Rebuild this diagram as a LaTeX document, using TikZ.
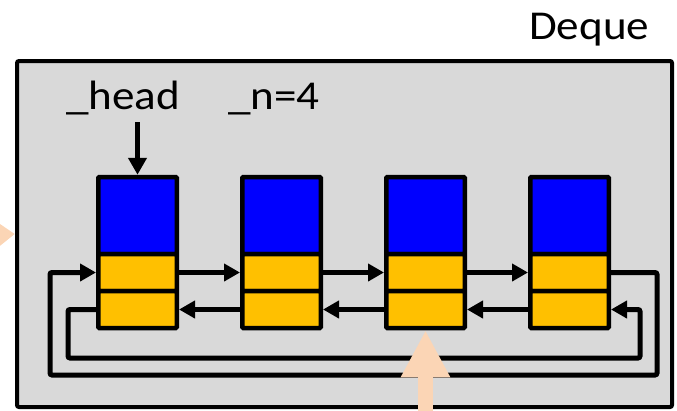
\documentclass[tikz,border=0pt]{standalone}
\usepackage{fontspec}
\setmainfont{Carlito}
\usetikzlibrary{arrows.meta}
\definecolor{boxgray}{RGB}{217,217,217}
\definecolor{cellblue}{RGB}{0,0,255}
\definecolor{cellgold}{RGB}{255,192,0}
\definecolor{peach}{RGB}{251,213,181}
\newcommand{\wide}[1]{\scalebox{1.1}[1]{#1}}
\tikzset{
  cell/.style={draw=black, line width=4.5pt, minimum width=78.5pt, inner sep=0pt, rounded corners=1pt},
  valcell/.style={cell, fill=cellblue, minimum height=77pt},
  ptrcell/.style={cell, fill=cellgold, minimum height=37pt},
  link/.style={draw=black, line width=5pt, rounded corners=2pt, -{Triangle[length=16pt,width=17pt]}},
  lbl/.style={font=\fontsize{41}{48}\selectfont, inner sep=0pt, anchor=base west},
  frame/.style={draw=black, fill=boxgray, line width=4pt, rounded corners=2pt, inner sep=0pt},
  bigarrow/.style={draw=peach, line width=15pt}
}
\begin{document}
\begin{tikzpicture}[x=1pt, y=-1pt]
  \useasboundingbox (0,0) rectangle (677,410);

  % deque container
  \node[frame, minimum width=655pt, minimum height=346pt] (deque) at (344.5,234) {};
  \node[lbl] (title) at (529,39) {\wide{Deque}};
  \node[lbl] (head) at (66,109) {\wide{\_head}};
  \node[lbl] (count) at (228,109) {\wide{\_n=4}};

  % list nodes: value cell, next pointer, prev pointer
  \foreach \i/\x in {1/137.5, 2/281.5, 3/425.5, 4/569.5} {
    \node[valcell] (n\i) at (\x,215.5) {};
    \node[ptrcell] (n\i a) at (\x,272.5) {};
    \node[ptrcell] (n\i b) at (\x,309.5) {};
  }

  % head pointer
  \coordinate (headtop) at (137.5,122);
  \draw[link, -{Triangle[length=17pt,width=18pt]}] (headtop) -- (n1.north);

  % next and prev links
  \draw[link] (n1a.east) -- (n2a.west);
  \draw[link] (n2a.east) -- (n3a.west);
  \draw[link] (n3a.east) -- (n4a.west);
  \draw[link] (n2b.west) -- (n1b.east);
  \draw[link] (n3b.west) -- (n2b.east);
  \draw[link] (n4b.west) -- (n3b.east);

  % wrap-around links
  \draw[link] (n4a.east) -| (657,375) -- (50,375) |- (n1a.west);
  \draw[link] (n1b.west) -| (68,358) -- (640,358) |- (n4b.east);

  % incoming arrows
  \begin{scope}
    \clip (0,0) rectangle (677,410);
    \coordinate (leftin) at (-60,237);
    \coordinate (bottomin) at (425.5,430);
    \draw[bigarrow, -{Triangle[length=40pt,width=56pt]}, peach] (leftin) -- (deque.west);
    \draw[bigarrow, -{Triangle[length=47pt,width=46pt]}, peach] (bottomin) -- (n3b.south);
  \end{scope}
\end{tikzpicture}
\end{document}
